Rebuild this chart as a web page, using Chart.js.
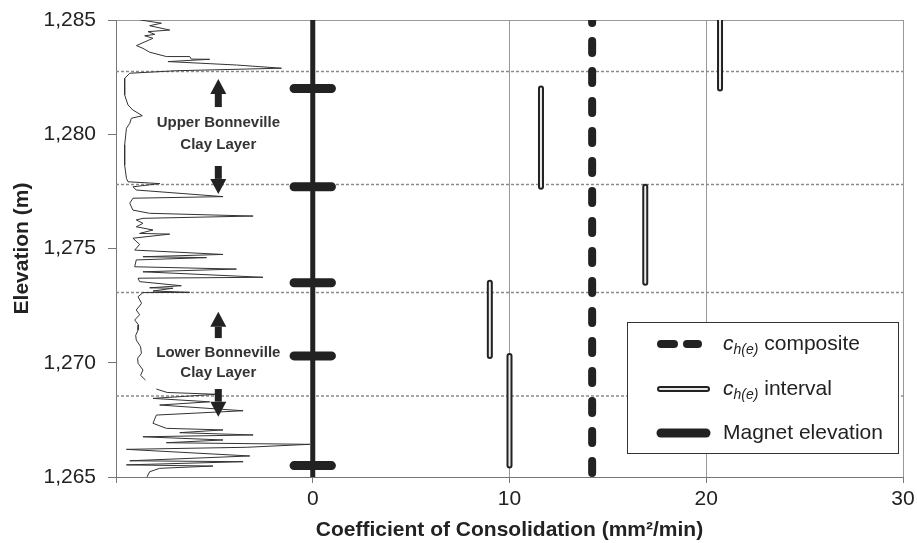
<!DOCTYPE html>
<html>
<head>
<meta charset="utf-8">
<script src="https://cdn.jsdelivr.net/npm/chart.js@4.4.1/dist/chart.umd.min.js"></script>
<style>
  body { margin: 0; background: #fff; }
  #wrap { position: relative; width: 917px; height: 543px; }
</style>
</head>
<body>
<div id="wrap"><canvas id="chart" width="917" height="543"></canvas></div>
<script>
// elevations (m) where the magnets sit
const magnetElev = [1282.0, 1277.7, 1273.5, 1270.3, 1265.5];
const magnetTickX = [-0.95, 0.95];

// clay layer boundaries (dotted lines)
const layerBounds = [1282.75, 1277.8, 1273.07, 1268.55];

// ch(e) per interval between magnets
const intervalTop = [1286.0, 1282.0, 1277.7, 1273.5, 1270.3];
const intervalBottom = [1282.0, 1277.7, 1273.5, 1270.3, 1265.5];
const intervalCh = [20.7, 11.6, 16.9, 9.0, 10.0];

// composite ch(e)
const compositeCh = 14.2;

// soil profile trace on the left
const traceX = [
  -8.76, -7.69, -8.29, -7.27, -8.37, -8.03, -8.54, -8.12, -8.96, -8.63,
  -8.29, -7.44, -6.25, -6.17, -5.24, -7.36, -3.88, -1.59, -6.93, -9.3,
  -9.56, -9.56, -9.56, -9.39, -9.14, -8.66, -9.22, -9.3, -9.47, -9.56,
  -9.56, -9.47, -9.39, -7.78, -9.14, -8.97, -4.56, -9.14, -9.3, -9.14,
  -8.29, -3.03, -8.63, -8.97, -8.63, -8.97, -8.12, -8.8, -7.27, -9.14,
  -8.8, -9.05, -4.56, -8.63, -5.4, -8.97, -9.05, -3.88, -8.63, -2.53,
  -8.88, -8.8, -6.68, -8.29, -7.1, -8.12, -6.25, -8.63, -8.88, -8.7,
  -8.97, -8.8, -9.05, -8.85, -8.88, -9.0, -8.97, -8.75, -8.71, -8.9,
  -8.88, -8.63, -8.75, -8.5, null,
  -7.95, -7.4, -4.9, -8.12, -5.24, -7.78, -3.54, -7.95, -8.12, -7.44,
  -4.56, -6.76, -3.03, -8.63, -4.56, -7.44, -0.15, -3.37, -9.47, -3.2,
  -9.3, -3.54, -9.47, -5.07, -7.78, -8.29, -8.46
];
const traceElev = [
  1285.0, 1284.86, 1284.75, 1284.56, 1284.49, 1284.37, 1284.31, 1284.2, 1283.88, 1283.76,
  1283.59, 1283.4, 1283.4, 1283.29, 1283.28, 1283.18, 1283.03, 1282.89, 1282.78, 1282.67,
  1282.45, 1282.16, 1281.72, 1281.28, 1281.06, 1280.81, 1280.7, 1280.48, 1280.26, 1279.53,
  1278.65, 1278.07, 1277.92, 1277.84, 1277.7, 1277.56, 1277.27, 1277.2, 1276.98, 1276.68,
  1276.54, 1276.42, 1276.32, 1276.25, 1276.1, 1275.95, 1275.81, 1275.66, 1275.63, 1275.45,
  1275.18, 1274.93, 1274.74, 1274.64, 1274.6, 1274.5, 1274.2, 1274.1, 1273.98, 1273.74,
  1273.7, 1273.55, 1273.37, 1273.28, 1273.26, 1273.14, 1273.08, 1273.07, 1272.89, 1272.6,
  1272.31, 1272.1, 1271.87, 1271.65, 1271.43, 1271.2, 1271.0, 1270.7, 1270.41, 1270.2,
  1269.98, 1269.68, 1269.45, 1269.24, null,
  1268.85, 1268.7, 1268.62, 1268.44, 1268.29, 1268.15, 1267.9, 1267.71, 1267.35, 1267.13,
  1267.06, 1266.94, 1266.84, 1266.76, 1266.62, 1266.5, 1266.43, 1266.3, 1266.21, 1265.92,
  1265.71, 1265.67, 1265.53, 1265.48, 1265.38, 1265.23, 1264.94
];

// layer annotations
const layerLabelX = -4.8;
const layerLabels = [
  { lines: ["Upper Bonneville", "Clay Layer"], elev: [1280.5, 1279.55] },
  { lines: ["Lower Bonneville", "Clay Layer"], elev: [1270.44, 1269.54] },
];
const arrowFrom = [1281.19, 1278.61, 1271.08, 1268.85];
const arrowTo = [1282.42, 1277.39, 1272.23, 1267.64];

const xMin = -10, xMax = 30, yMin = 1265, yMax = 1285;

const INK = "#222";
const FONT = "'Liberation Sans', Arial, sans-serif";

// build datasets
const tracePts = traceX.map((x, i) => ({ x: x, y: traceElev[i] }));

const boundPts = [];
layerBounds.forEach((e) => {
  boundPts.push({ x: xMin, y: e }, { x: xMax, y: e }, { x: null, y: null });
});

const magnetPts = [];
magnetElev.forEach((e) => {
  magnetPts.push({ x: magnetTickX[0], y: e }, { x: magnetTickX[1], y: e }, { x: null, y: null });
});

const intervalPts = [];
intervalCh.forEach((c, i) => {
  intervalPts.push({ x: c, y: intervalTop[i] }, { x: c, y: intervalBottom[i] }, { x: null, y: null });
});

function lineSet(data, extra) {
  return Object.assign(
    {
      data: data,
      showLine: true,
      pointRadius: 0,
      pointHoverRadius: 0,
      spanGaps: false,
      tension: 0,
      fill: false,
    },
    extra
  );
}

function drawArrow(ctx, x, yFrom, yTo) {
  const dir = yTo < yFrom ? -1 : 1;
  const head = 15, halfHead = 8, halfShaft = 3.5;
  const yBase = yTo - dir * head;
  ctx.beginPath();
  ctx.rect(x - halfShaft, Math.min(yFrom, yBase), halfShaft * 2, Math.abs(yBase - yFrom));
  ctx.fill();
  ctx.beginPath();
  ctx.moveTo(x - halfHead, yBase);
  ctx.lineTo(x + halfHead, yBase);
  ctx.lineTo(x, yTo);
  ctx.closePath();
  ctx.fill();
}

const annotations = {
  id: "annotations",
  afterDatasetsDraw(chart) {
    const ctx = chart.ctx;
    const sx = chart.scales.x, sy = chart.scales.y;
    const ax = sx.getPixelForValue(layerLabelX);
    ctx.save();
    ctx.fillStyle = INK;
    arrowFrom.forEach((e, i) => {
      drawArrow(ctx, ax, sy.getPixelForValue(e), sy.getPixelForValue(arrowTo[i]));
    });
    ctx.fillStyle = "#333";
    ctx.font = "bold 15px " + FONT;
    ctx.textAlign = "center";
    ctx.textBaseline = "middle";
    layerLabels.forEach((l) => {
      l.lines.forEach((t, j) => ctx.fillText(t, ax, sy.getPixelForValue(l.elev[j])));
    });
    ctx.restore();
  },
  afterDraw(chart) {
    // legend box inside the plot
    const ctx = chart.ctx;
    const ca = chart.chartArea;
    const w = 271, h = 131;
    const bx = ca.right - w - 5, by = ca.bottom - h - 24;
    ctx.save();
    ctx.fillStyle = "#fff";
    ctx.fillRect(bx, by, w, h);
    ctx.strokeStyle = "#333";
    ctx.lineWidth = 1;
    ctx.strokeRect(bx + 0.5, by + 0.5, w, h);

    const rows = [by + 22, by + 67, by + 111];
    ctx.lineCap = "round";
    ctx.strokeStyle = INK;
    // composite
    ctx.lineWidth = 8;
    ctx.beginPath();
    ctx.moveTo(bx + 34, rows[0]); ctx.lineTo(bx + 47, rows[0]);
    ctx.moveTo(bx + 60, rows[0]); ctx.lineTo(bx + 71, rows[0]);
    ctx.stroke();
    // interval
    ctx.lineWidth = 6;
    ctx.beginPath();
    ctx.moveTo(bx + 33, rows[1]); ctx.lineTo(bx + 80, rows[1]);
    ctx.stroke();
    ctx.strokeStyle = "#e6e6e6";
    ctx.lineWidth = 2;
    ctx.beginPath();
    ctx.moveTo(bx + 33, rows[1]); ctx.lineTo(bx + 80, rows[1]);
    ctx.stroke();
    // magnet
    ctx.strokeStyle = INK;
    ctx.lineWidth = 9;
    ctx.beginPath();
    ctx.moveTo(bx + 34, rows[2]); ctx.lineTo(bx + 79, rows[2]);
    ctx.stroke();

    ctx.fillStyle = INK;
    ctx.textBaseline = "middle";
    ctx.textAlign = "left";
    const tx = bx + 96;
    const sub = (y, rest) => {
      let x = tx;
      ctx.font = "italic 21px " + FONT;
      ctx.fillText("c", x, y);
      x += ctx.measureText("c").width;
      ctx.font = "italic 14px " + FONT;
      ctx.fillText("h(e)", x, y + 6);
      x += ctx.measureText("h(e)").width;
      ctx.font = "21px " + FONT;
      ctx.fillText(rest, x, y);
    };
    sub(rows[0], " composite");
    sub(rows[1], " interval");
    ctx.font = "21px " + FONT;
    ctx.fillText("Magnet elevation", tx, rows[2]);
    ctx.restore();
  },
};

new Chart(document.getElementById("chart"), {
  type: "scatter",
  data: {
    datasets: [
      lineSet([{ x: compositeCh, y: yMax }, { x: compositeCh, y: yMin }], {
        label: "composite",
        borderColor: INK,
        borderWidth: 8,
        borderDash: [12, 18],
        borderDashOffset: 9,
        borderCapStyle: "round",
        order: 1,
      }),
      lineSet(intervalPts, {
        label: "interval inner",
        borderColor: "#ececec",
        borderWidth: 2,
        borderCapStyle: "round",
        order: 2,
      }),
      lineSet(intervalPts, {
        label: "interval",
        borderColor: INK,
        borderWidth: 6,
        borderCapStyle: "round",
        order: 3,
      }),
      lineSet(magnetPts, {
        label: "Magnet elevation",
        borderColor: INK,
        borderWidth: 9,
        borderCapStyle: "round",
        order: 4,
      }),
      lineSet([{ x: 0, y: yMax }, { x: 0, y: yMin }], {
        label: "zero",
        borderColor: INK,
        borderWidth: 5,
        order: 5,
      }),
      lineSet(tracePts, {
        label: "profile",
        borderColor: "#333",
        borderWidth: 1,
        order: 6,
      }),
      lineSet(boundPts, {
        label: "layer bounds",
        borderColor: "#8a8a8a",
        borderWidth: 1.5,
        borderDash: [3, 2],
        order: 7,
      }),
    ],
  },
  options: {
    responsive: false,
    animation: false,
    layout: { padding: { top: 20, right: 14, left: 0, bottom: 0 } },
    plugins: {
      legend: { display: false },
      tooltip: { enabled: false },
    },
    scales: {
      x: {
        type: "linear",
        min: xMin,
        max: xMax,
        afterFit: (s) => { s.height = 66; },
        border: { color: "#777", width: 1 },
        grid: {
          color: (c) => (c.tick && c.tick.value === xMin ? "transparent" : "#999"),
          tickColor: "#777",
          tickLength: 6,
          drawTicks: true,
        },
        ticks: {
          stepSize: 10,
          padding: 2,
          color: INK,
          font: { family: FONT, size: 21, lineHeight: 1.4 },
          callback: (v) => (v === xMin ? "" : v),
        },
        title: {
          display: true,
          text: "Coefficient of Consolidation (mm²/min)",
          color: INK,
          font: { family: FONT, size: 21, weight: "bold" },
          padding: { top: 0, bottom: 0 },
        },
      },
      y: {
        type: "linear",
        min: yMin,
        max: yMax,
        afterFit: (s) => { s.width = 116; },
        border: { color: "#777", width: 1 },
        grid: {
          color: (c) => (c.tick && c.tick.value === yMax ? "#999" : "transparent"),
          tickColor: "#777",
          tickLength: 8,
        },
        ticks: {
          stepSize: 5,
          padding: 12,
          color: INK,
          font: { family: FONT, size: 21, lineHeight: 0.5 },
          callback: (v) => v.toLocaleString("en-US"),
        },
        title: {
          display: true,
          text: "Elevation (m)",
          color: INK,
          font: { family: FONT, size: 21, weight: "bold" },
          padding: { top: 10, bottom: 0 },
        },
      },
    },
  },
  plugins: [annotations],
});
</script>
</body>
</html>
